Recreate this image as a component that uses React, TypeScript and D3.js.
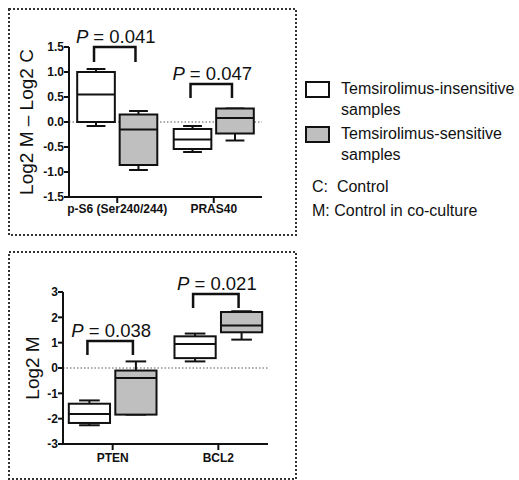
import React from "react";
import * as d3 from "d3";

type Box = { min: number; q1: number; med: number; q3: number; max: number };

// Top panel data
const topCategories = ["p-S6 (Ser240/244)", "PRAS40"];
const topInsensitive: Box[] = [
  { min: -0.08, q1: 0.0, med: 0.55, q3: 1.0, max: 1.06 },
  { min: -0.6, q1: -0.54, med: -0.35, q3: -0.14, max: -0.08 },
];
const topSensitive: Box[] = [
  { min: -0.96, q1: -0.86, med: -0.15, q3: 0.15, max: 0.22 },
  { min: -0.37, q1: -0.23, med: 0.08, q3: 0.27, max: 0.27 },
];
const topPValues = ["0.041", "0.047"];
const topBracketTop = [1.5, 0.76];
const topBracketLeg = [1.2, 0.48];
const topTicks = [-1.5, -1.0, -0.5, 0.0, 0.5, 1.0, 1.5];

// Bottom panel data
const botCategories = ["PTEN", "BCL2"];
const botInsensitive: Box[] = [
  { min: -2.26, q1: -2.17, med: -1.82, q3: -1.41, max: -1.28 },
  { min: 0.26, q1: 0.39, med: 0.95, q3: 1.25, max: 1.36 },
];
const botSensitive: Box[] = [
  { min: -1.84, q1: -1.84, med: -0.39, q3: -0.1, max: 0.26 },
  { min: 1.12, q1: 1.41, med: 1.68, q3: 2.21, max: 2.24 },
];
const botPValues = ["0.038", "0.021"];
const botBracketTop = [1.07, 2.92];
const botBracketLeg = [0.51, 2.37];
const botTicks = [-3, -2, -1, 0, 1, 2, 3];

const legendLabels = [
  ["Temsirolimus-insensitive", "samples"],
  ["Temsirolimus-sensitive", "samples"],
];
const noteLabels = ["C:  Control", "M: Control in co-culture"];

const FONT = "'Liberation Sans', Arial, Helvetica, sans-serif";
const GRAY = "#bfbfbf";

type PanelProps = {
  categories: string[];
  insensitive: Box[];
  sensitive: Box[];
  pValues: string[];
  bracketTop: number[];
  bracketLeg: number[];
  ticks: number[];
  tickFmt: (v: number) => string;
  domain: [number, number];
  x0: number;
  x1: number;
  yTop: number;
  yBot: number;
  padding: number;
  ylabel: string;
  ylabelX: number;
  catLabelY: number;
};

function Panel(p: PanelProps) {
  const x = d3.scalePoint<string>().domain(p.categories).range([p.x0, p.x1]).padding(p.padding);
  const y = d3.scaleLinear().domain(p.domain).range([p.yBot, p.yTop]);
  const step = x.step();
  const off = step * 0.22;
  const bw = step * 0.39;

  const drawBox = (b: Box, cx: number, fill: string, key: string) => {
    const cap = bw / 2;
    return (
      <g key={key}>
        <line x1={cx} x2={cx} y1={y(b.q3)} y2={y(b.max)} stroke="#111" strokeWidth={2} />
        <line x1={cx} x2={cx} y1={y(b.q1)} y2={y(b.min)} stroke="#111" strokeWidth={2} />
        <line x1={cx - cap / 2} x2={cx + cap / 2} y1={y(b.max)} y2={y(b.max)} stroke="#111" strokeWidth={2} />
        <line x1={cx - cap / 2} x2={cx + cap / 2} y1={y(b.min)} y2={y(b.min)} stroke="#111" strokeWidth={2} />
        <rect
          x={cx - bw / 2}
          y={y(b.q3)}
          width={bw}
          height={Math.max(0.5, y(b.q1) - y(b.q3))}
          fill={fill}
          stroke="#111"
          strokeWidth={2}
        />
        <line x1={cx - bw / 2} x2={cx + bw / 2} y1={y(b.med)} y2={y(b.med)} stroke="#111" strokeWidth={2} />
      </g>
    );
  };

  return (
    <g>
      {/* zero line */}
      <line x1={p.x0} x2={p.x1} y1={y(0)} y2={y(0)} stroke="#555" strokeWidth={1} strokeDasharray="1.5,2" />
      {p.categories.map((c, i) => {
        const cx = x(c)!;
        return (
          <g key={c}>
            {drawBox(p.insensitive[i], cx - off, "#fff", "a")}
            {drawBox(p.sensitive[i], cx + off, GRAY, "b")}
          </g>
        );
      })}
      {/* brackets */}
      {p.categories.map((c, i) => {
        const cx = x(c)!;
        const xa = cx - off - 2;
        const xb = cx + off - 3;
        const yt = y(p.bracketTop[i]);
        const yl = y(p.bracketLeg[i]);
        return (
          <g key={"br" + c}>
            <path
              d={`M${xa},${yl}V${yt}H${xb}V${yl}`}
              fill="none"
              stroke="#111"
              strokeWidth={2.5}
            />
            <text x={(xa + xb) / 2 + 1} y={yt - 4} textAnchor="middle" fontFamily={FONT} fontSize={18.5} fill="#111">
              <tspan fontStyle="italic">P</tspan> = {p.pValues[i]}
            </text>
          </g>
        );
      })}
      {/* y axis */}
      <line x1={p.x0} x2={p.x0} y1={y(p.domain[0])} y2={y(p.domain[1])} stroke="#111" strokeWidth={2} />
      {p.ticks.map((t) => (
        <g key={"t" + t}>
          <line x1={p.x0 - 5} x2={p.x0} y1={y(t)} y2={y(t)} stroke="#111" strokeWidth={2} />
          <text x={p.x0 - 5} y={y(t)} dy="0.35em" textAnchor="end" fontFamily={FONT} fontWeight="bold" fontSize={12} fill="#111">
            {p.tickFmt(t)}
          </text>
        </g>
      ))}
      {/* x axis */}
      <line x1={p.x0 - 1} x2={p.x1} y1={y(p.domain[0])} y2={y(p.domain[0])} stroke="#111" strokeWidth={2} />
      {p.categories.map((c) => (
        <g key={"x" + c}>
          <line x1={x(c)!} x2={x(c)!} y1={y(p.domain[0])} y2={y(p.domain[0]) + 6} stroke="#111" strokeWidth={2} />
          <text x={x(c)!} y={p.catLabelY} textAnchor="middle" fontFamily={FONT} fontWeight="bold" fontSize={12} fill="#111">
            {c}
          </text>
        </g>
      ))}
      {/* y label */}
      <text
        transform={`translate(${p.ylabelX},${(p.yTop + p.yBot) / 2}) rotate(-90)`}
        textAnchor="middle"
        fontFamily={FONT}
        fontSize={19}
        fill="#111"
      >
        {p.ylabel}
      </text>
    </g>
  );
}

export default function App() {
  const fmt1 = d3.format(".1f");
  const fmt0 = d3.format("d");
  return (
    <svg
      width={519}
      height={480}
      style={{ position: "absolute", left: 0, top: 0, background: "#fff" }}
    >
      <rect x={0} y={0} width={519} height={480} fill="#fff" />
      {/* dotted panel frames */}
      <rect x={9} y={9} width={287} height={226} fill="none" stroke="#333" strokeWidth={2} strokeDasharray="2,2" />
      <rect x={9} y={252} width={287} height={227} fill="none" stroke="#333" strokeWidth={2} strokeDasharray="2,2" />

      <Panel
        categories={topCategories}
        insensitive={topInsensitive}
        sensitive={topSensitive}
        pValues={topPValues}
        bracketTop={topBracketTop}
        bracketLeg={topBracketLeg}
        ticks={topTicks}
        tickFmt={(v) => fmt1(v).replace("−", "-")}
        domain={[-1.5, 1.5]}
        x0={69}
        x1={262}
        yTop={47}
        yBot={197}
        padding={0.5}
        ylabel="Log2 M – Log2 C"
        ylabelX={33}
        catLabelY={213}
      />
      <Panel
        categories={botCategories}
        insensitive={botInsensitive}
        sensitive={botSensitive}
        pValues={botPValues}
        bracketTop={botBracketTop}
        bracketLeg={botBracketLeg}
        ticks={botTicks}
        tickFmt={(v) => fmt0(v).replace("−", "-")}
        domain={[-3, 3]}
        x0={63}
        x1={268}
        yTop={292}
        yBot={444}
        padding={0.47}
        ylabel="Log2 M"
        ylabelX={39}
        catLabelY={462}
      />

      {/* legend */}
      {legendLabels.map((lines, i) => {
        const by = 82 + i * 45;
        return (
          <g key={"lg" + i}>
            <rect x={306} y={by} width={23} height={15} fill={i === 0 ? "#fff" : GRAY} stroke="#111" strokeWidth={2} />
            {lines.map((t, j) => (
              <text key={j} x={341} y={by + 12 + j * 21} fontFamily={FONT} fontSize={16} fill="#111">
                {t}
              </text>
            ))}
          </g>
        );
      })}
      {noteLabels.map((t, i) => (
        <text
          key={"n" + i}
          x={312}
          y={192 + i * 24}
          fontFamily={FONT}
          fontSize={16}
          fill="#111"
          style={{ whiteSpace: "pre" }}
        >
          {t}
        </text>
      ))}
    </svg>
  );
}
